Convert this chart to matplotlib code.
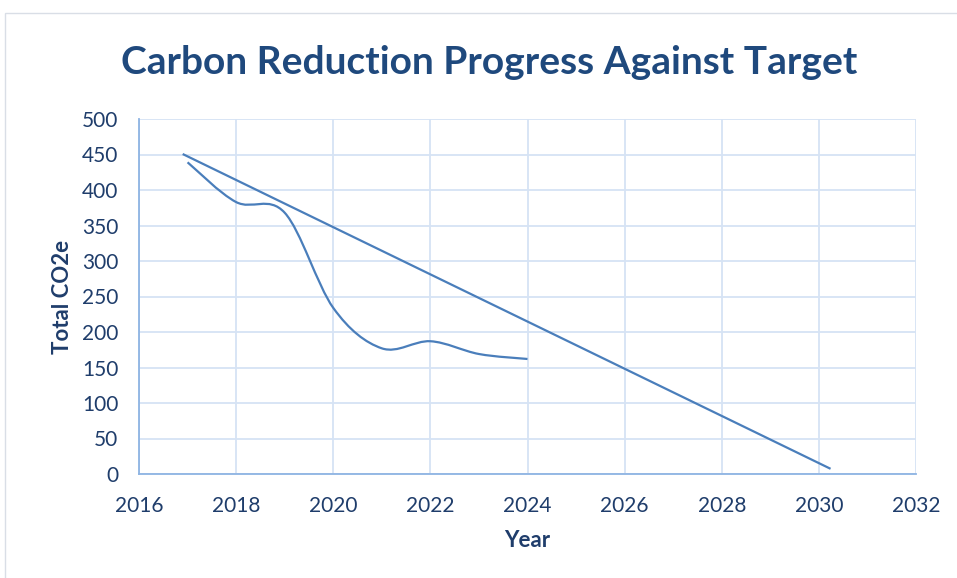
import matplotlib
matplotlib.use("Agg")
import matplotlib.pyplot as plt
import numpy as np
from matplotlib.path import Path
from matplotlib.patches import PathPatch, Rectangle

# data
actual_years = [2017, 2018, 2019, 2020, 2021, 2022, 2023, 2024]
actual_co2e = [439, 383, 368, 234, 177, 187, 169, 162]
target_years = [2016.92, 2030.22]
target_co2e = [450, 8]

x_ticks = [2016, 2018, 2020, 2022, 2024, 2026, 2028, 2030, 2032]
y_ticks = [0, 50, 100, 150, 200, 250, 300, 350, 400, 450, 500]

line_col = "#4a7ebb"
grid_col = "#d6e3f4"
spine_col = "#8eb4e3"
text_col = "#1f3d6b"
title_col = "#1f497d"


def smooth_path(xs, ys):
    # excel style smoothed line: cubic bezier, control points at 1/6 of neighbour span
    xs = np.asarray(xs, float)
    ys = np.asarray(ys, float)
    n = len(xs)
    verts = [(xs[0], ys[0])]
    codes = [Path.MOVETO]
    for i in range(n - 1):
        i0 = max(i - 1, 0)
        i3 = min(i + 2, n - 1)
        c1 = (xs[i] + (xs[i + 1] - xs[i0]) / 6, ys[i] + (ys[i + 1] - ys[i0]) / 6)
        c2 = (xs[i + 1] - (xs[i3] - xs[i]) / 6, ys[i + 1] - (ys[i3] - ys[i]) / 6)
        verts += [c1, c2, (xs[i + 1], ys[i + 1])]
        codes += [Path.CURVE4] * 3
    return Path(verts, codes)


fig = plt.figure(figsize=(9.57, 5.78), dpi=100)
ax = fig.add_axes([139 / 957, 1 - 474 / 578, 777 / 957, 355 / 578])

# outer chart border
fig.patches.append(Rectangle((5 / 957, -0.01), 1.0, 1 - 13 / 578 + 0.01,
                             transform=fig.transFigure, fill=False,
                             edgecolor="#d9dee6", linewidth=1.0))

ax.add_patch(PathPatch(smooth_path(actual_years, actual_co2e), fill=False,
                       edgecolor=line_col, linewidth=1.6, capstyle="butt"))
ax.plot(target_years, target_co2e, color=line_col, linewidth=1.6)

ax.set_xlim(2016, 2032)
ax.set_ylim(0, 500)
ax.set_xticks(x_ticks)
ax.set_yticks(y_ticks)
ax.grid(True, color=grid_col, linewidth=1.3)
ax.set_axisbelow(True)
ax.tick_params(length=0, labelsize=15, labelcolor=text_col)
ax.tick_params(axis="x", pad=16)
ax.tick_params(axis="y", pad=15)
for lbl in ax.get_xticklabels() + ax.get_yticklabels():
    lbl.set_fontfamily("Lato")

for s in ["top", "right"]:
    ax.spines[s].set_visible(False)
for s in ["left", "bottom"]:
    ax.spines[s].set_color(spine_col)
    ax.spines[s].set_linewidth(1.3)

ax.set_xlabel("Year", fontsize=16, fontweight="bold", color=text_col,
              fontfamily="Lato", labelpad=10)
ax.set_ylabel("Total CO2e", fontsize=16, fontweight="bold", color=text_col,
              fontfamily="Lato", labelpad=6)

fig.text(489 / 957, 1 - 62 / 578, "Carbon Reduction Progress Against Target",
         ha="center", va="center", fontsize=28, fontweight="bold",
         color=title_col, fontfamily="Lato")

fig.savefig("out.png", dpi=100)
